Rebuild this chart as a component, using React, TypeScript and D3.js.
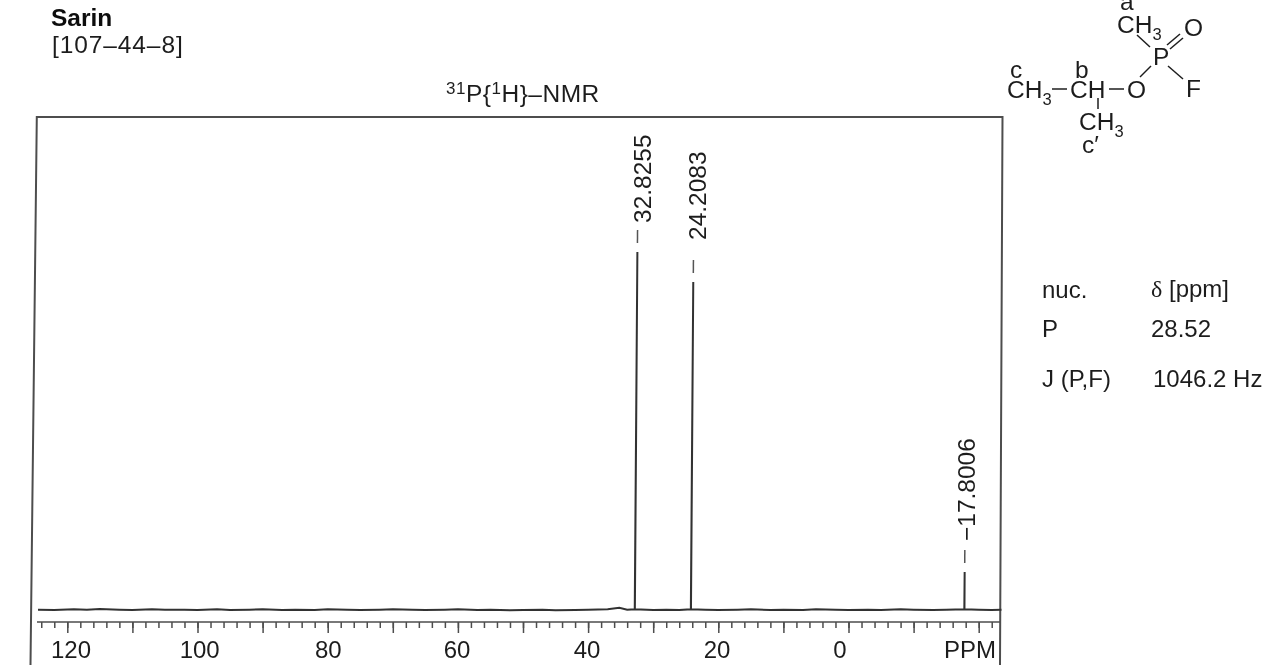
import React, { useEffect, useRef } from "react";
import * as d3 from "d3";

// chemical shifts of the three printed peaks
const peakPpm = [32.8255, 24.2083, -17.8006];
const peakHeights = [100, 91.6, 10.6];
const peakLabels = ["32.8255", "24.2083", "\u221217.8006"];

const axisLabels = [120, 100, 80, 60, 40, 20, 0];
const majorTicks = [120, 110, 100, 90, 80, 70, 60, 50, 40, 30, 20, 10, 0, -10, -20];
const minorTicks = d3.range(124, -23, -2);

// baseline wobble, ppm / height
const noisePpm = [
  124.5, 122, 119, 117, 115, 112, 110, 107, 105, 102, 100, 97, 95, 92, 90, 87, 85, 82, 80, 77, 75, 72, 70, 67, 65, 62,
  60, 57, 55, 52, 50, 47, 45, 42, 40, 37, 35.2, 34, 30, 28, 26, 22, 20, 17, 15, 12, 10, 7, 5, 2, 0, -3, -5, -8, -10,
  -13, -15, -20, -22, -23.5,
];
const noiseVals = [
  0.1, 0, 0.2, 0.1, 0.3, 0.1, 0, 0.2, 0.1, 0.1, 0, 0.2, 0, 0.1, 0.2, 0, 0.1, 0, 0.2, 0.1, 0, 0.1, 0.2, 0.1, 0, 0.1,
  0.2, 0, 0.1, -0.1, 0, 0.1, -0.1, 0, 0.1, 0.2, 0.6, 0.1, 0, 0.1, 0, 0.1, 0, 0.1, 0.2, 0, 0.1, 0, 0.2, 0.1, 0, 0.1,
  0, 0.2, 0.1, 0, 0.1, 0.1, 0, 0.1,
];

const tableRows = [
  ["nuc.", "\u03b4", 298],
  ["P", "28.52", 337],
  ["J (P,F)", "1046.2 Hz", 387],
];

const W = 1278;
const H = 665;
const INK = "#1e1e1e";
const LINE = "#4d4d4d";
const SANS = "'Liberation Sans', Arial, sans-serif";

const x = d3.scaleLinear().domain([0, 120]).range([848.5, 67.3]);
const y = d3.scaleLinear().domain([0, 100]).range([610, 252]);
// the printed numbers do not sit exactly on their ticks
const labelX = d3.scaleLinear().domain([120, 60, 20, 0]).range([71, 457, 717, 840]);

const traceRows: [number, number][] = [];
noisePpm.forEach((p, i) => traceRows.push([p, noiseVals[i]]));
peakPpm.forEach((p, i) => {
  traceRows.push([p + 0.01, 0.2], [p, peakHeights[i]], [p - 0.01, 0.2]);
});
traceRows.sort((a, b) => b[0] - a[0]);

const trace = d3
  .line<[number, number]>()
  .x((d) => x(d[0]))
  .y((d) => y(d[1]));

const Chem = ({ px, py, t, sub, size = 24.5 }: any) => (
  <text x={px} y={py} fontSize={size} fill={INK}>
    {t}
    {sub && (
      <tspan fontSize={16.5} dy={7}>
        {sub}
      </tspan>
    )}
  </text>
);

const bonds = [
  [1137, 35, 1150, 47],
  [1167, 45, 1180, 34],
  [1170, 49, 1183, 38],
  [1151, 66, 1140, 77],
  [1168, 66, 1183, 79],
  [1052, 89, 1067, 89],
  [1109, 89, 1124, 89],
  [1098, 98, 1098, 109],
];

const App = () => {
  const minorRef = useRef<SVGGElement>(null);
  const majorRef = useRef<SVGGElement>(null);

  useEffect(() => {
    const minor = d3.axisBottom(x).tickValues(minorTicks).tickSizeInner(6).tickSizeOuter(0).tickFormat(() => "");
    const major = d3.axisBottom(x).tickValues(majorTicks).tickSizeInner(11).tickSizeOuter(0).tickFormat(() => "");
    const gMinor = d3.select(minorRef.current).call(minor as any);
    const gMajor = d3.select(majorRef.current).call(major as any);
    gMinor.select(".domain").remove();
    gMajor.select(".domain").remove();
    gMinor.selectAll("line").attr("stroke", LINE).attr("stroke-width", 1.5);
    gMajor.selectAll("line").attr("stroke", LINE).attr("stroke-width", 1.5);
  }, []);

  return (
    <svg
      width={W}
      height={H}
      style={{ position: "absolute", left: 0, top: 0, background: "#fff" }}
      fontFamily={SANS}
    >
      <defs>
        <filter id="scan" x="0" y="0" width="100%" height="100%">
          <feGaussianBlur stdDeviation="0.55" />
        </filter>
      </defs>
      <g filter="url(#scan)">
        <rect width={W} height={H} fill="#fff" />
        <text x={51} y={26} fontSize={24.5} fontWeight="bold" fill="#111">
          Sarin
        </text>
        <text x={52} y={53} fontSize={24.5} fill={INK} letterSpacing={0.9}>
          [107–44–8]
        </text>

        <text x={446} y={102} fontSize={24.5} fill={INK} letterSpacing={0.5}>
          <tspan fontSize={17} dy={-8}>31</tspan>
          <tspan dy={8}>P{"{"}</tspan>
          <tspan fontSize={17} dy={-8}>1</tspan>
          <tspan dy={8}>H{"}"}–NMR</tspan>
        </text>

        {/* frame: the scan is slightly warped so the sides lean */}
        <path d="M30.5,665 L36.8,117 L1002.5,117 L1000,665" fill="none" stroke={LINE} strokeWidth={2} />

        {/* spectrum leans with the page, pivot on the baseline */}
        <g transform={`matrix(1,0,-0.0072,1,${610 * 0.0072},0)`}>
          <path d={trace(traceRows) || ""} fill="none" stroke="#333" strokeWidth={2} />
          {peakPpm.map((p, i) => (
            <line
              key={p}
              x1={x(p)}
              x2={x(p)}
              y1={y(peakHeights[i]) - 9}
              y2={y(peakHeights[i]) - 22}
              stroke="#555"
              strokeWidth={1.5}
            />
          ))}
        </g>

        {peakPpm.map((p, i) => {
          const bx = [651, 706, 975][i];
          const by = [223, 240, 541][i];
          return (
            <text key={p} transform={`translate(${bx},${by}) rotate(-90)`} fontSize={24.5} fill={INK}>
              {peakLabels[i]}
            </text>
          );
        })}

        {/* ppm axis */}
        <line x1={37} x2={1000} y1={622} y2={622} stroke={LINE} strokeWidth={1.5} />
        <g ref={minorRef} transform="translate(0,622)" />
        <g ref={majorRef} transform="translate(0,622)" />
        {axisLabels.map((v) => (
          <text key={v} x={labelX(v)} y={658} fontSize={24} textAnchor="middle" fill={INK}>
            {v}
          </text>
        ))}
        <text x={996} y={658} fontSize={24} textAnchor="end" fill={INK}>
          PPM
        </text>

        {/* structure */}
        <Chem px={1120} py={10} t="a" />
        <Chem px={1117} py={33} t="CH" sub="3" />
        <Chem px={1184} py={36} t="O" />
        <Chem px={1153} py={65} t="P" />
        <Chem px={1186} py={97} t="F" />
        <Chem px={1127} py={98} t="O" />
        <Chem px={1070} py={98} t="CH" />
        <Chem px={1007} py={98} t="CH" sub="3" />
        <Chem px={1010} py={78} t="c" />
        <Chem px={1075} py={78} t="b" />
        <Chem px={1079} py={130} t="CH" sub="3" />
        <Chem px={1082} py={153} t="c′" />
        {bonds.map((b, i) => (
          <line key={i} x1={b[0]} y1={b[1]} x2={b[2]} y2={b[3]} stroke={INK} strokeWidth={1.5} />
        ))}

        {/* shift table */}
        {tableRows.map((r) => (
          <g key={r[0] as string} fontSize={24} fill={INK}>
            <text x={1042} y={r[2] as number}>
              {r[0]}
            </text>
            <text x={r[1] === "1046.2 Hz" ? 1153 : 1151} y={(r[2] as number) - (r[1] === "\u03b4" ? 1 : 0)}>
              {r[1] === "\u03b4" ? (
                <>
                  <tspan fontFamily="'Liberation Serif', serif">δ</tspan> [ppm]
                </>
              ) : (
                r[1]
              )}
            </text>
          </g>
        ))}
      </g>
    </svg>
  );
};

export default App;
